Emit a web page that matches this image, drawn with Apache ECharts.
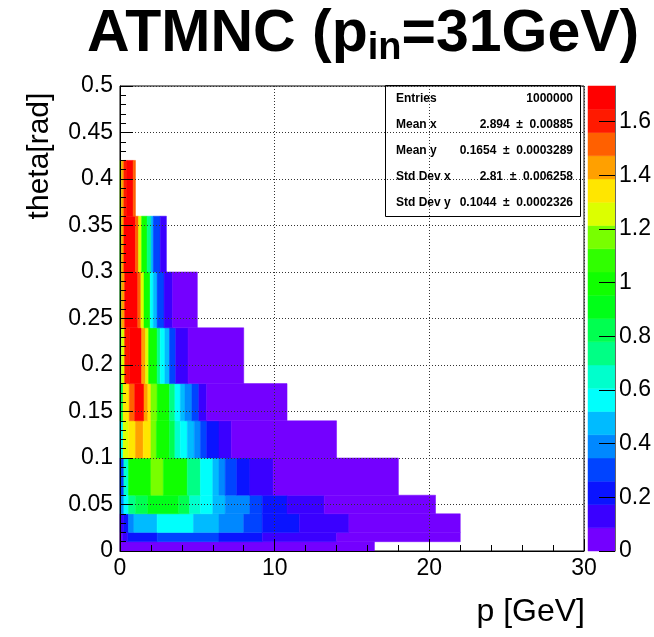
<!DOCTYPE html>
<html><head><meta charset="utf-8">
<script src="https://cdn.jsdelivr.net/npm/echarts@6/dist/echarts.min.js"></script>
<style>html,body{margin:0;padding:0;background:#fff}#c{width:654px;height:637px}</style>
</head><body><div id="c"></div>
<script>
// theta bin edges (rad), bottom to top
const THETA_EDGES = [0, 0.01, 0.02, 0.04, 0.06, 0.10, 0.14, 0.18, 0.24, 0.30, 0.36, 0.42];
// p bin edges (GeV) for each theta row
const P_EDGES = [
  [0, 16.45],
  [0, 0.15, 0.5, 2.4, 6.4, 9.2, 14.0, 22.0],
  [0, 0.25, 0.55, 0.9, 2.4, 4.75, 6.4, 8.0, 9.2, 11.6, 14.8, 22.0],
  [0, 0.25, 0.55, 1.0, 1.8, 3.8, 4.5, 5.2, 6.0, 6.8, 8.4, 9.2, 10.8, 13.2, 20.4],
  [0, 0.25, 0.55, 2.0, 2.8, 4.35, 5.2, 6.0, 6.4, 6.8, 7.55, 8.4, 9.9, 18.0],
  [0, 0.2, 0.55, 1.0, 1.5, 2.0, 2.35, 3.2, 3.55, 3.9, 4.35, 4.8, 5.2, 5.6, 6.4, 7.2, 14.0],
  [0, 0.2, 0.6, 0.95, 1.55, 1.8, 2.0, 2.4, 3.2, 3.55, 3.9, 4.2, 4.65, 5.1, 5.6, 10.8],
  [0, 0.1, 0.3, 0.6, 1.4, 1.65, 1.85, 2.4, 2.6, 2.9, 3.2, 3.6, 4.4, 8.0],
  [0, 0.1, 0.3, 1.15, 1.35, 1.55, 1.95, 2.15, 2.4, 2.85, 3.4, 5.0],
  [0, 0.1, 0.25, 1.0, 1.2, 1.4, 1.75, 2.0, 2.15, 2.6, 3.0],
  [0, 0.1, 0.25, 0.45, 0.85, 1.0]
];
// cell contents for each theta row
const CELL_VALUES = [
  [0.04],
  [0.04, 0.13, 0.22, 0.30, 0.22, 0.13, 0.04],
  [0.13, 0.22, 0.39, 0.48, 0.56, 0.48, 0.39, 0.30, 0.22, 0.13, 0.04],
  [0.39, 0.56, 0.74, 0.82, 0.91, 0.82, 0.65, 0.56, 0.48, 0.39, 0.30, 0.22, 0.13, 0.04],
  [0.30, 0.65, 1.00, 1.17, 1.00, 0.74, 0.56, 0.48, 0.39, 0.30, 0.22, 0.13, 0.04],
  [0.56, 1.26, 1.34, 1.43, 1.34, 1.17, 1.00, 0.82, 0.65, 0.56, 0.48, 0.39, 0.30, 0.22, 0.13, 0.04],
  [0.82, 1.34, 1.52, 1.69, 1.43, 1.34, 1.17, 1.00, 0.74, 0.56, 0.48, 0.39, 0.30, 0.13, 0.04],
  [0.74, 1.26, 1.61, 1.69, 1.43, 1.26, 1.00, 0.74, 0.56, 0.48, 0.30, 0.13, 0.04],
  [0.91, 1.43, 1.69, 1.52, 1.26, 1.00, 0.56, 0.48, 0.30, 0.13, 0.04],
  [1.00, 1.43, 1.69, 1.52, 1.26, 1.00, 0.74, 0.48, 0.30, 0.13],
  [1.17, 1.43, 1.61, 1.69, 1.52]
];
const X_TICKS = [0, 10, 20, 30];
const Y_TICKS = [0, 0.05, 0.1, 0.15, 0.2, 0.25, 0.3, 0.35, 0.4, 0.45, 0.5];
const Z_TICKS = [0, 0.2, 0.4, 0.6, 0.8, 1, 1.2, 1.4, 1.6];
const Z_MAX = 1.733;
const N_LEVELS = 20;
const PALETTE = ['#7400ff','#3a00ff','#0a14ff','#0044ff','#0088ff','#00bbff','#00fffc','#00ffcc',
  '#00ff85','#00ff50','#00ff18','#10ff00','#30ff00','#78ff00','#dcff00','#ffe600','#ffa000','#ff6000','#ff1a00','#ff0000'];
const STATS_LABELS = ['Entries', 'Mean x', 'Mean y', 'Std Dev x', 'Std Dev y'];
const STATS_VALUES = ['1000000', '2.894  \u00b1  0.00885', '0.1654  \u00b1  0.0003289', '2.81  \u00b1  0.006258', '0.1044  \u00b1  0.0002326'];
const TITLE_PARTS = ['ATMNC (p', 'in', '=31GeV)'];
const X_TITLE = 'p [GeV]';
const Y_TITLE = 'theta[rad]';

const FONT = '"Liberation Sans", Arial, Helvetica, sans-serif';
const cells = [];
for (let r = 0; r < P_EDGES.length; r++) {
  const e = P_EDGES[r], v = CELL_VALUES[r];
  for (let i = 0; i < v.length; i++) cells.push([e[i], e[i + 1], THETA_EDGES[r], THETA_EDGES[r + 1], v[i]]);
}
const w = Z_MAX / N_LEVELS;
const bar = [];
const pieces = [];
for (let k = 0; k < N_LEVELS; k++) {
  bar.push([0, 1, k * w, (k + 1) * w, (k + 0.5) * w]);
  const pc = {gte: k * w, color: PALETTE[k]};
  if (k < N_LEVELS - 1) pc.lt = (k + 1) * w; else pc.lte = Z_MAX + 1;
  pieces.push(pc);
}
function rectItem(params, api) {
  const a = api.coord([api.value(0), api.value(2)]);
  const b = api.coord([api.value(1), api.value(3)]);
  const c = api.visual('color');
  return {type: 'rect', shape: {x: a[0], y: b[1], width: b[0] - a[0], height: a[1] - b[1]},
    style: {fill: c, stroke: c, lineWidth: 0.5}};
}
const tickColor = '#000';
const chart = echarts.init(document.getElementById('c'), null, {renderer: 'canvas'});
chart.setOption({
  animation: false,
  backgroundColor: '#fff',
  grid: [
    {left: 120, top: 86, width: 464, height: 465, show: true, borderColor: '#000', borderWidth: 1, backgroundColor: 'transparent'},
    {left: 588, top: 86, width: 30, height: 465}
  ],
  xAxis: [
    {type: 'value', gridIndex: 0, min: 0, max: 30, interval: 10, z: 5,
      axisLine: {show: true, onZero: false, lineStyle: {color: tickColor, width: 1}},
      axisTick: {show: true, inside: true, length: 12, lineStyle: {color: tickColor}},
      minorTick: {show: true, splitNumber: 5, length: 6, lineStyle: {color: tickColor}},
      splitLine: {show: true, lineStyle: {type: [1, 2], color: '#333', width: 1}},
      axisLabel: {fontSize: 23, color: '#000', fontFamily: FONT, margin: 6,
        customValues: X_TICKS}},
    {type: 'value', gridIndex: 1, min: 0, max: 1, show: false}
  ],
  yAxis: [
    {type: 'value', gridIndex: 0, min: 0, max: 0.5, interval: 0.05, z: 5,
      axisLine: {show: true, onZero: false, lineStyle: {color: tickColor, width: 1}},
      axisTick: {show: true, inside: true, length: 13, lineStyle: {color: tickColor}},
      minorTick: {show: true, splitNumber: 5, length: 6, lineStyle: {color: tickColor}},
      splitLine: {show: true, lineStyle: {type: [1, 2], color: '#333', width: 1}},
      axisLabel: {fontSize: 23, color: '#000', fontFamily: FONT, margin: 7,
        customValues: Y_TICKS, formatter: v => String(Math.round(v * 100) / 100)}},
    {type: 'value', gridIndex: 1, position: 'right', min: 0, max: Z_MAX, z: 5,
      axisLine: {show: true, onZero: false, lineStyle: {color: '#666', width: 1}},
      axisTick: {show: true, inside: true, length: 16, customValues: Z_TICKS, lineStyle: {color: '#000', width: 1}},
      minorTick: {show: false},
      splitLine: {show: false},
      axisLabel: {fontSize: 23, color: '#000', fontFamily: FONT, margin: 4, customValues: Z_TICKS,
        formatter: v => String(Math.round(v * 10) / 10)}}
  ],
  visualMap: {type: 'piecewise', show: false, dimension: 4, seriesIndex: [0, 1], pieces: pieces},
  series: [
    {type: 'custom', xAxisIndex: 0, yAxisIndex: 0, renderItem: rectItem, data: cells,
      encode: {x: [0, 1], y: [2, 3]}, z: 2},
    {type: 'custom', xAxisIndex: 1, yAxisIndex: 1, renderItem: rectItem, data: bar,
      encode: {x: [0, 1], y: [2, 3]}, z: 2}
  ],
  graphic: [
    {type: 'text', left: 87, top: 5, z: 10,
      style: {text: '{a|' + TITLE_PARTS[0] + '}{b|' + TITLE_PARTS[1] + '}{a|' + TITLE_PARTS[2] + '}',
        rich: {
          a: {fontSize: 59, fontWeight: 'bold', fontFamily: FONT, fill: '#000', lineHeight: 67},
          b: {fontSize: 38, fontWeight: 'bold', fontFamily: FONT, fill: '#000', lineHeight: 43, verticalAlign: 'bottom'}
        }}},
    {type: 'text', x: 40, y: 156, rotation: Math.PI / 2, z: 10,
      style: {text: Y_TITLE, fontSize: 30, fontFamily: FONT, fill: '#000', align: 'center', verticalAlign: 'middle'}},
    {type: 'text', x: 585, y: 612, z: 10,
      style: {text: X_TITLE, fontSize: 32, fontFamily: FONT, fill: '#000', align: 'right', verticalAlign: 'middle'}},
    {type: 'rect', z: 10, shape: {x: 385.5, y: 85.5, width: 195, height: 131},
      style: {fill: 'none', stroke: '#000', lineWidth: 1}}
  ].concat(STATS_LABELS.map((t, i) => ({type: 'text', x: 396, y: 99 + i * 26, z: 11,
      style: {text: t, fontSize: 12, fontWeight: 'bold', fontFamily: FONT, fill: '#000', align: 'left', verticalAlign: 'middle'}})))
   .concat(STATS_VALUES.map((t, i) => ({type: 'text', x: 573, y: 99 + i * 26, z: 11,
      style: {text: t, fontSize: 12, fontWeight: 'bold', fontFamily: FONT, fill: '#000', align: 'right', verticalAlign: 'middle'}})))
});
</script></body></html>
